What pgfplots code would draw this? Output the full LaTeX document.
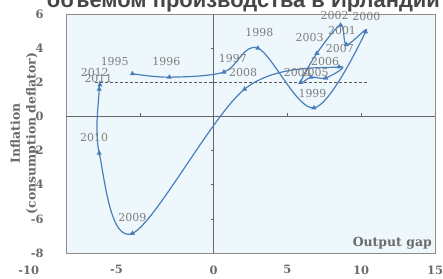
\documentclass[border=0pt]{standalone}
\usepackage{fontspec}
\setmainfont{DejaVu Serif}
\newfontfamily\titlefont{Liberation Sans}
\usepackage{pgfplots}
\pgfplotsset{compat=1.18}
\definecolor{bgblue}{RGB}{238,247,252}
\definecolor{curve}{RGB}{74,126,187}
\definecolor{lblgray}{RGB}{125,125,125}
\definecolor{tickgray}{RGB}{105,105,105}
\definecolor{titlegray}{RGB}{70,70,70}
\begin{document}
\begin{tikzpicture}
\begin{axis}[
  scale only axis, width=369bp, height=239bp,
  xmin=-10, xmax=15, ymin=-8, ymax=6,
  axis background/.style={fill=bgblue},
  axis line style={draw=black!45, line width=0.6pt},
  xtick={-10,-5,0,5,10,15},
  xticklabels={{\llap{-10\hspace{27bp}}},{\llap{-5\hspace{17bp}}},0,5,10,15},
  ytick={-8,-6,-4,-2,0,2,4,6},
  yticklabels={-8,-6,-4,-2,0,2,4,6},
  major tick length=0pt,
  tick label style={font=\bfseries\fontsize{11.5}{13}\selectfont, text=tickgray},
  yticklabel style={xshift=-19bp},
  xticklabel style={yshift=-9bp},
  ylabel={Inflation\\(consumption deflator)},
  ylabel style={font=\bfseries\fontsize{12.5}{16}\selectfont, text=tickgray, align=center,
    at={(axis description cs:-0.113,0.5)}, anchor=center},
  clip=false,
]
% central axes
\addplot[draw=black!60, line width=0.6pt, forget plot] coordinates {(0,-8) (0,6)};
\addplot[draw=black!60, line width=0.6pt, forget plot] coordinates {(-10,0) (15,0)};
\draw[black!60, line width=0.6pt] (axis cs:0,-6) -- (axis cs:-0.2,-6);
\draw[black!60, line width=0.6pt] (axis cs:0,-4) -- (axis cs:-0.2,-4);
\draw[black!60, line width=0.6pt] (axis cs:0,-2) -- (axis cs:-0.2,-2);
\draw[black!60, line width=0.6pt] (axis cs:0,2) -- (axis cs:-0.2,2);
\draw[black!60, line width=0.6pt] (axis cs:0,4) -- (axis cs:-0.2,4);
\draw[black!60, line width=0.6pt] (axis cs:-5,0) -- (axis cs:-5,0.18);
\draw[black!60, line width=0.6pt] (axis cs:5,0) -- (axis cs:5,0.18);
\draw[black!60, line width=0.6pt] (axis cs:10,0) -- (axis cs:10,0.18);
% dashed 2% line
\addplot[draw=black!65, line width=0.6pt, dash pattern=on 3pt off 2pt, forget plot] coordinates {(-8.05,2) (10.4,2)};
% curve
\addplot[draw=curve, line width=1.2pt, smooth, tension=0.55, mark=triangle*, mark size=1.8pt,
  mark options={fill=curve, draw=curve, solid}] coordinates {
  (-5.5,2.5) (-3.0,2.3) (0.7,2.6) (3.0,4.0) (6.8,0.5) (10.3,4.95) (9.0,4.2) (8.6,5.35)
  (7.0,3.7) (5.9,2.0) (6.6,2.3) (7.6,2.25) (8.5,2.9) (2.1,1.6) (-5.5,-6.85)
  (-7.75,-2.15) (-7.75,1.6) (-7.7,1.85)
};
% year labels
\begin{scope}[every node/.style={font=\fontsize{11}{12}\selectfont, text=lblgray, inner sep=0pt}]
\node at (axis cs:-6.7,3.2) {1995};
\node at (axis cs:-3.2,3.2) {1996};
\node at (axis cs:1.3,3.4) {1997};
\node at (axis cs:3.1,4.9) {1998};
\node at (axis cs:6.7,1.35) {1999};
\node at (axis cs:10.35,5.85) {2000};
\node at (axis cs:8.7,5.05) {2001};
\node at (axis cs:8.2,5.9) {2002};
\node at (axis cs:6.5,4.65) {2003};
\node at (axis cs:5.7,2.55) {2004};
\node at (axis cs:6.85,2.55) {2005};
\node at (axis cs:7.55,3.2) {2006};
\node at (axis cs:8.55,3.95) {2007};
\node at (axis cs:2.0,2.55) {2008};
\node at (axis cs:-5.5,-5.95) {2009};
\node at (axis cs:-8.1,-1.25) {2010};
\node at (axis cs:-7.8,2.25) {2011};
\node at (axis cs:-8.05,2.6) {2012};
\end{scope}
\node[anchor=south east, font=\bfseries\fontsize{12.5}{14}\selectfont, text=tickgray, inner sep=0pt]
  at (axis cs:15,-8) [xshift=-3bp, yshift=4bp] {Output gap};
\end{axis}
\node[anchor=base east, font=\titlefont\bfseries\fontsize{22}{22}\selectfont, text=titlegray, inner sep=0pt]
  at (374bp,245.5bp) {объемом производства в Ирландии};
\pgfresetboundingbox
\useasboundingbox (-66bp,-26bp) rectangle (377bp,253bp);
\end{tikzpicture}
\end{document}
